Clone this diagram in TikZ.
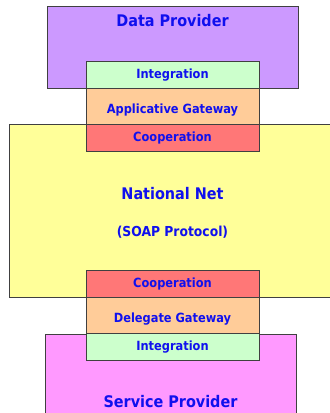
\documentclass[tikz,border=0pt]{standalone}
\usepackage{fontspec}
\setmainfont{DejaVu Sans Condensed}
\usepackage{tikz}

\definecolor{provPurple}{HTML}{CC99FF}
\definecolor{servPink}{HTML}{FF99FF}
\definecolor{netYellow}{HTML}{FFFF99}
\definecolor{intGreen}{HTML}{CCFFCC}
\definecolor{gwOrange}{HTML}{FFCC99}
\definecolor{coopRed}{HTML}{FF7777}
\definecolor{textBlue}{HTML}{1010EE}

\tikzset{
  layer/.style={draw=black!75, line width=0.75pt, rectangle, inner sep=0pt,
    text=textBlue, font=\bfseries\fontsize{9.5}{11}\selectfont,
    minimum width=129.75pt},
  gateway/.style={layer, fill=gwOrange, minimum height=27pt, text height=12pt, text depth=2pt},
  bigbox/.style={draw=black!75, line width=0.75pt, rectangle, inner sep=0pt,
    text=textBlue, font=\bfseries\fontsize{12}{14}\selectfont, align=center}
}

\begin{document}
\begin{tikzpicture}[x=0.75pt, y=-0.75pt]
  \useasboundingbox (0,0) rectangle (329,413);
  % Draw the big blocks
  \node[bigbox, fill=provPurple, minimum width=188.25pt, minimum height=61.5pt,
    label={[anchor=center, yshift=-10.25pt, text=textBlue, font=\bfseries\fontsize{12}{14}\selectfont]north:Data Provider}] (provider) at (172.5,48) {};
  \node[bigbox, fill=netYellow, minimum width=245.25pt, minimum height=129pt] (net) at (172.5,211)
    {\rule{0pt}{12pt}National Net\\[14pt]{\fontsize{10.3}{12}\selectfont (SOAP Protocol)}};
  \node[bigbox, fill=servPink, minimum width=188.25pt, minimum height=102pt] (service) at (170.5,402) {Service Provider};
  % Draw the gateway stacks
  \node[layer, fill=intGreen, minimum height=20.25pt] (topInt) at (172.5,75.5) {Integration};
  \node[gateway] (appGw) at (172.5,107) {Applicative Gateway};
  \node[layer, fill=coopRed, minimum height=20.25pt] (topCoop) at (172.5,138.5) {Cooperation};
  \node[layer, fill=coopRed, minimum height=20.25pt] (botCoop) at (172.5,284) {Cooperation};
  \node[gateway] (delGw) at (172.5,315.5) {Delegate Gateway};
  \node[layer, fill=intGreen, minimum height=20.25pt] (botInt) at (172.5,347) {Integration};
\end{tikzpicture}
\end{document}
